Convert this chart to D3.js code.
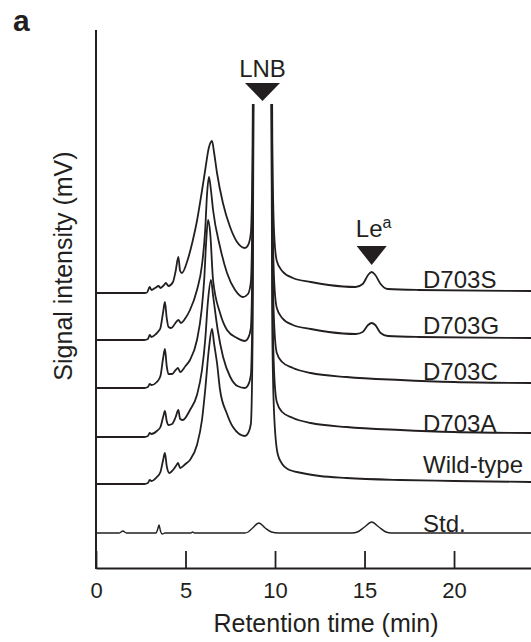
<!DOCTYPE html>
<html>
<head>
<meta charset="utf-8">
<script src="https://cdn.jsdelivr.net/npm/d3@7"></script>
<style>
  body { margin: 0; background: #fff; }
  svg text { font-family: "Liberation Sans", Arial, sans-serif; fill: #231f20; }
</style>
</head>
<body>
<div id="chart"></div>
<script>
// retention time (min), signal above each trace's own baseline (arbitrary mV)
const traceNames = ['D703S', 'D703G', 'D703C', 'D703A', 'Wild-type', 'Std.']
const traceOffsets = [275, 228, 180, 131, 84, 35]

const traceS = [[0,0],[2.7,0],[2.85,0.5],[3.0,6],[3.1,3],[3.3,5],[3.5,7],[3.6,5],[3.8,8],[3.9,10],[4.05,7],[4.3,11],
  [4.45,22],[4.6,36],[4.7,22],[4.8,20],[5.1,32],[5.4,52],[5.64,72],[5.9,100],[6.1,123],[6.3,145],[6.48,152],[6.6,140],
  [6.76,120],[7.09,90],[7.49,66],[7.88,51],[8.32,45],[8.5,48],[8.65,60],[8.75,150],[8.82,500],[8.95,1500],[9.3,2500],
  [9.65,1500],[9.78,450],[9.85,150],[9.95,60],[10.1,32],[10.4,22],[11.0,15],[12.0,11],[13.0,8],[14.5,6],[14.9,9],
  [15.2,18],[15.4,21],[15.6,18],[15.9,9],[16.3,4],[18,3],[24.3,2]]

const traceG = [[0,0],[2.7,0],[2.9,1],[3.0,5],[3.1,3],[3.35,6],[3.5,9],[3.6,12],[3.75,28],[3.85,38],[3.95,22],[4.05,13],
  [4.2,12],[4.4,16],[4.6,20],[4.75,17],[5.0,22],[5.25,30],[5.64,50],[5.92,75],[6.1,110],[6.2,145],[6.31,163],[6.42,150],
  [6.54,130],[6.93,93],[7.32,67],[7.77,50],[8.21,43],[8.49,46],[8.65,58],[8.75,150],[8.82,500],[8.95,1500],[9.3,2500],
  [9.65,1500],[9.78,450],[9.85,150],[9.95,60],[10.1,32],[10.4,22],[11.0,15],[12.0,11],[13.0,8],[14.5,6],[14.9,8],
  [15.2,15],[15.4,17],[15.6,15],[15.9,7],[16.3,4],[18,3],[24.3,2]]

const traceC = [[0,0],[2.7,0],[2.9,1],[3.0,4],[3.1,3],[3.4,6],[3.6,12],[3.75,30],[3.85,39],[3.95,22],[4.05,14],[4.25,14],
  [4.45,18],[4.58,20],[4.7,16],[5.0,22],[5.25,28],[5.64,48],[5.9,78],[6.05,110],[6.15,145],[6.26,168],[6.38,155],
  [6.54,108],[6.93,75],[7.32,58],[7.88,50],[8.32,47],[8.5,50],[8.65,60],[8.75,150],[8.82,500],[8.95,1500],[9.3,2500],
  [9.65,1500],[9.78,450],[9.85,150],[9.95,65],[10.1,35],[10.4,26],[11.0,20],[12.0,15],[14,11],[17,8],[20,6],[24.3,5]]

const traceA = [[0,0],[2.7,0],[2.9,1],[3.0,4],[3.1,3],[3.4,6],[3.6,10],[3.75,20],[3.85,26],[3.95,16],[4.05,12],[4.25,13],
  [4.45,20],[4.6,27],[4.7,18],[4.85,17],[5.25,27],[5.64,42],[5.92,67],[6.1,97],[6.25,135],[6.42,157],[6.55,140],
  [6.8,107],[7.1,80],[7.5,60],[7.9,51],[8.32,49],[8.5,52],[8.65,62],[8.75,150],[8.82,500],[8.95,1500],[9.3,2500],
  [9.65,1500],[9.78,450],[9.85,150],[9.95,65],[10.1,35],[10.4,25],[11,19],[12,14],[14,10],[17,7],[20,5],[24.3,4]]

const traceWT = [[0,0],[2.7,0],[2.9,1],[3.0,4],[3.1,3],[3.4,7],[3.6,12],[3.75,24],[3.85,31],[3.95,18],[4.1,11],[4.3,14],
  [4.5,19],[4.58,21],[4.7,16],[5.0,20],[5.25,24],[5.64,39],[5.92,64],[6.1,94],[6.3,134],[6.48,155],[6.6,140],[6.76,121],
  [6.93,94],[7.3,71],[7.65,57],[8.32,48],[8.5,51],[8.65,60],[8.75,150],[8.82,500],[8.95,1500],[9.3,2500],[9.65,1500],
  [9.78,450],[9.85,150],[9.95,70],[10.15,30],[10.4,20],[10.7,15],[11.5,11],[12.5,8],[14,6],[17,4],[20,3],[24.3,2]]

const traceStd = [[0,0],[1.3,0],[1.5,2],[1.7,0],[3.35,0],[3.45,4],[3.52,8],[3.6,2],[3.7,-1],[3.85,0],[5.3,0],[5.4,1],
  [5.5,0],[8.3,0],[8.5,1],[8.75,5],[9.1,10],[9.45,5],[9.8,1],[10.2,0],[14.3,0],[14.6,1],[15.0,6],[15.4,11],[15.8,6],
  [16.2,1],[16.5,0],[24.3,0]]

const traces = [traceS, traceG, traceC, traceA, traceWT, traceStd]

const peakNames = ['LNB', 'Le']
const peakSup = ['', 'a']
const peakTimes = [9.3, 15.4]

const xTicks = [0, 5, 10, 15, 20]
const xDomain = [0, 24.3]

;(function(){
  const W = 531, H = 642
  const plotL = 96, plotR = 531, plotT = 30, plotB = 568
  const ink = '#231f20'

  var svg = d3.select('#chart').append('svg')
    .attr('width', W)
    .attr('height', H)

  var x = d3.scaleLinear().domain(xDomain).range([plotL, plotR])
  var y = d3.scaleLinear().domain([0, plotB - plotT]).range([plotB, plotT])

  // LNB tops are cut off under the marker
  svg.append('clipPath').attr('id', 'plotclip')
    .append('rect')
    .attr('x', plotL).attr('y', 104)
    .attr('width', plotR - plotL).attr('height', plotB - 104)

  var plot = svg.append('g').attr('clip-path', 'url(#plotclip)')

  traces.forEach(function(tr, i){
    var off = traceOffsets[i]
    var line = d3.line()
      .x(d => x(d[0]))
      .y(d => y(d[1] + off))
      .curve(d3.curveMonotoneX)
    plot.append('path')
      .datum(tr)
      .attr('d', line)
      .attr('fill', 'none')
      .attr('stroke', ink)
      .attr('stroke-width', i == 5 ? 1.4 : 1.8)
      .attr('stroke-linejoin', 'round')
  })

  // trace labels
  var labelY = [288, 334, 380, 432, 473, 532]
  svg.selectAll('.tlabel').data(traceNames).enter()
    .append('text')
    .attr('class', 'tlabel')
    .attr('x', 423)
    .attr('y', (d, i) => labelY[i])
    .attr('font-size', 24)
    .text(d => d)

  // axes
  var xAxis = d3.axisBottom(x)
    .tickValues(xTicks)
    .tickSizeInner(-17)
    .tickSizeOuter(0)
    .tickPadding(14)
    .tickFormat(d3.format('d'))

  var gx = svg.append('g')
    .attr('transform', 'translate(0,' + plotB + ')')
    .call(xAxis)
  gx.select('.domain').attr('stroke', ink).attr('stroke-width', 2)
  gx.selectAll('.tick line').attr('stroke', ink).attr('stroke-width', 1.8)
  gx.selectAll('.tick text')
    .attr('font-size', 22)
    .attr('font-family', '"Liberation Sans", Arial, sans-serif')
    .attr('fill', ink)

  svg.append('line')
    .attr('x1', plotL).attr('x2', plotL)
    .attr('y1', plotT).attr('y2', plotB + 1)
    .attr('stroke', ink).attr('stroke-width', 2)

  svg.append('text')
    .attr('x', 326).attr('y', 632)
    .attr('text-anchor', 'middle')
    .attr('font-size', 25)
    .text('Retention time (min)')

  svg.append('text')
    .attr('transform', 'translate(72,266) rotate(-90)')
    .attr('text-anchor', 'middle')
    .attr('font-size', 25)
    .text('Signal intensity (mV)')

  svg.append('text')
    .attr('x', 13).attr('y', 31)
    .attr('font-size', 30)
    .attr('font-weight', 'bold')
    .text('a')

  // peak markers
  var markerTop = [83, 246], markerH = [18, 19], markerW = [35, 30], textY = [77, 237]
  peakTimes.forEach(function(t, i){
    var cx = x(t)
    svg.append('path')
      .attr('d', 'M' + (cx - markerW[i]/2) + ',' + markerTop[i] +
                 'L' + (cx + markerW[i]/2) + ',' + markerTop[i] +
                 'L' + cx + ',' + (markerTop[i] + markerH[i]) + 'Z')
      .attr('fill', ink)
    var lbl = svg.append('text')
      .attr('x', cx + (peakSup[i] ? 2 : 0))
      .attr('y', textY[i])
      .attr('text-anchor', 'middle')
      .attr('font-size', 24)
    lbl.append('tspan').text(peakNames[i])
    if (peakSup[i]) {
      lbl.append('tspan')
        .attr('font-size', 16)
        .attr('dy', -9)
        .text(peakSup[i])
    }
  })
})()
</script>
</body>
</html>
